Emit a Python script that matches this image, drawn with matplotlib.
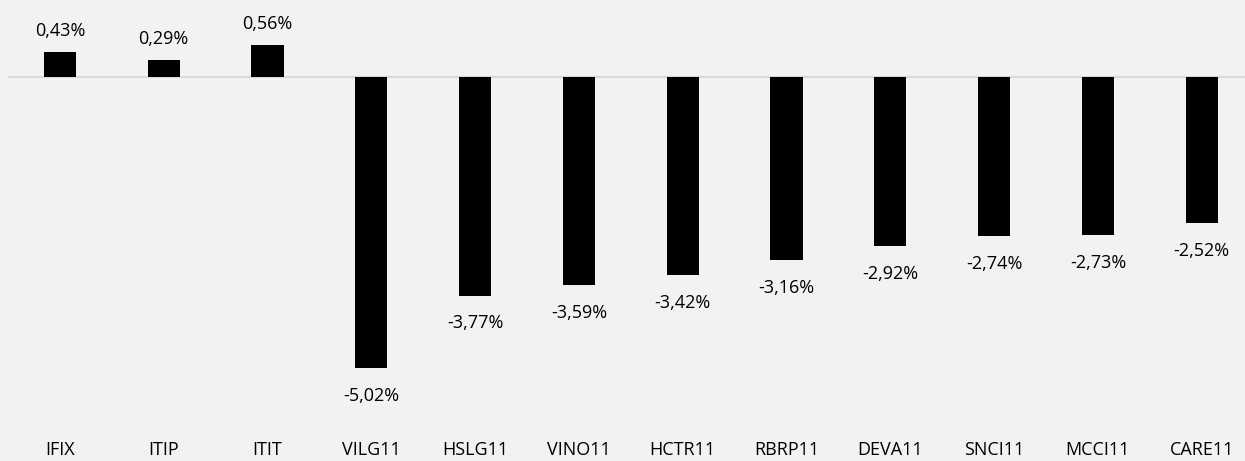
import matplotlib.pyplot as plt
import numpy as np

# dados
tickers = ["IFIX", "ITIP", "ITIT", "VILG11", "HSLG11", "VINO11", "HCTR11",
           "RBRP11", "DEVA11", "SNCI11", "MCCI11", "CARE11"]
retorno = [0.43, 0.29, 0.56, -5.02, -3.77, -3.59, -3.42, -3.16, -2.92, -2.74, -2.73, -2.52]

plt.rcParams['font.family'] = ['Open Sans', 'DejaVu Sans']

fig = plt.figure(figsize=(12.45, 4.61), dpi=100, facecolor="#f2f2f2")
ax = fig.add_axes([8 / 1245, 41 / 461, 1245.6 / 1245, 420 / 461])
ax.set_facecolor("#f2f2f2")

x = np.arange(len(tickers))
bars = ax.bar(x, retorno, width=0.31, color="black", zorder=3)
ax.axhline(0, color="#d9d9d9", lw=1.5, zorder=2)

for xi, v in zip(x, retorno):
    txt = f"{v:.2f}%".replace(".", ",")
    off = 15 if v > 0 else -20
    ax.annotate(txt, (xi, v), xytext=(0, off), textcoords="offset points",
                ha="center", va="center", fontsize=13, color="#000000")

ax.set_xlim(-0.5, 11.5)
ax.set_ylim(-(420 - 77) / 58, 77 / 58)
ax.set_xticks(x)
ax.set_xticklabels(tickers, fontsize=13)
ax.tick_params(axis="x", length=0, pad=15)
ax.set_yticks([])
for s in ax.spines.values():
    s.set_visible(False)

plt.savefig("out.png", dpi=100, facecolor=fig.get_facecolor())
